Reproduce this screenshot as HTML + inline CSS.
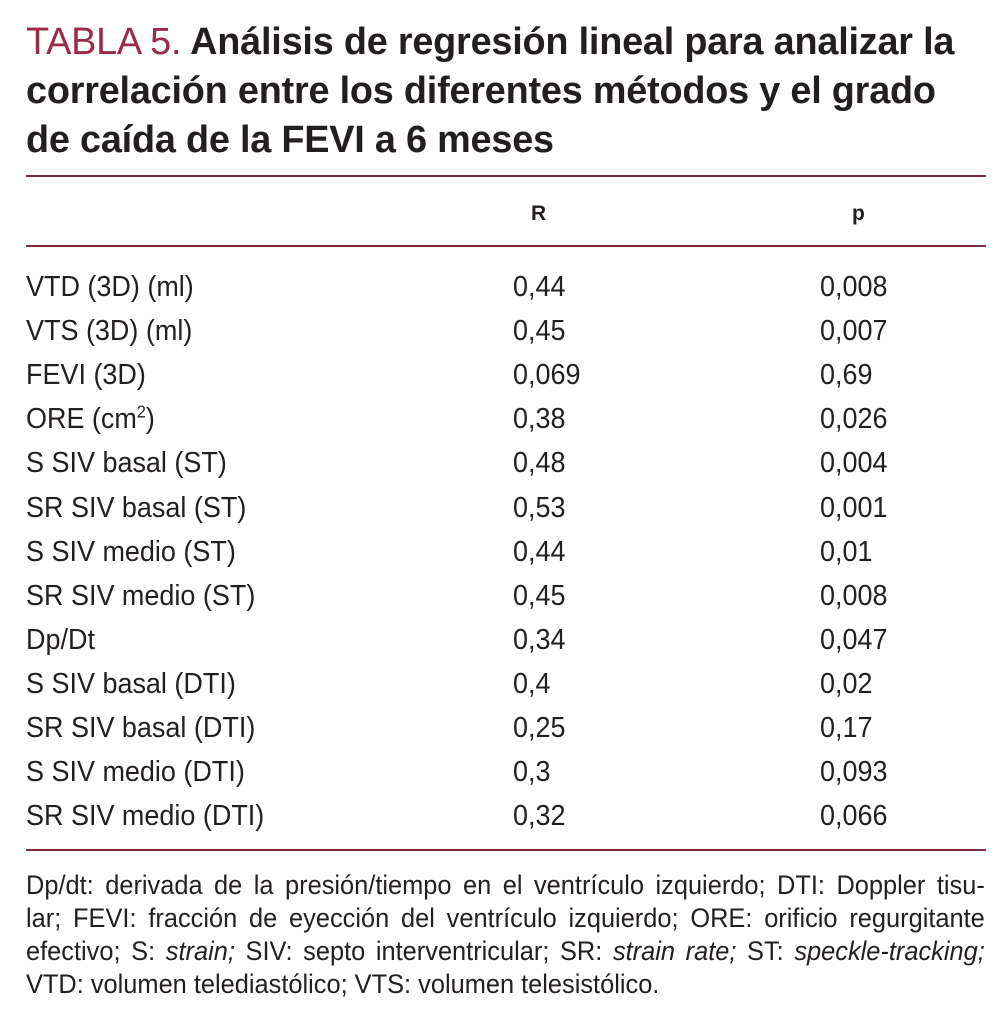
<!DOCTYPE html>
<html><head><meta charset="utf-8"><style>
body{margin:0;width:995px;height:1020px;background:#fff;position:relative;overflow:hidden;font-family:"Liberation Sans",sans-serif;color:#231f20}
.t{position:absolute;left:26px;font-family:"Liberation Sans",sans-serif;font-weight:bold;font-size:37.8px;white-space:nowrap;line-height:40px;letter-spacing:-0.2px}
.rule{position:absolute;left:26px;width:960px;height:2px;background:#7a3040}
.c{position:absolute;font-size:29px;white-space:nowrap;line-height:30px;transform:scaleX(0.93);transform-origin:left top}
.c sup{font-size:60%;line-height:0;vertical-align:super}
.h{position:absolute;font-weight:bold;font-size:21px;top:202px}
.f{position:absolute;left:26px;width:1020px;font-size:27px;line-height:28px;text-align:justify;text-align-last:justify;white-space:nowrap;transform:scaleX(0.94);transform-origin:left top}
</style></head><body>
<div class="t" style="top:22px"><span style="color:#9a2a45;font-weight:normal">TABLA 5.</span> Análisis de regresión lineal para analizar la</div>
<div class="t" style="top:71px">correlación entre los diferentes métodos y el grado</div>
<div class="t" style="top:120px">de caída de la FEVI a 6 meses</div>
<div class="rule" style="top:175px"></div>
<div class="h" style="left:531px">R</div>
<div class="h" style="left:852px">p</div>
<div class="rule" style="top:245px"></div>
<div id="rows"></div>
<div class="rule" style="top:849px"></div>
<div class="f" style="top:871px">Dp/dt: derivada de la presión/tiempo en el ventrículo izquierdo; DTI: Doppler tisu-</div>
<div class="f" style="top:904px">lar; FEVI: fracción de eyección del ventrículo izquierdo; ORE: orificio regurgitante</div>
<div class="f" style="top:937px">efectivo; S: <i>strain;</i> SIV: septo interventricular; SR: <i>strain rate;</i> ST: <i>speckle-tracking;</i></div>
<div class="f" style="top:970px;text-align-last:left">VTD: volumen telediastólico; VTS: volumen telesistólico.</div>
<script>
const labels=["VTD (3D) (ml)","VTS (3D) (ml)","FEVI (3D)","ORE (cm<sup>2</sup>)","S SIV basal (ST)","SR SIV basal (ST)","S SIV medio (ST)","SR SIV medio (ST)","Dp/Dt","S SIV basal (DTI)","SR SIV basal (DTI)","S SIV medio (DTI)","SR SIV medio (DTI)"];
const rVals=["0,44","0,45","0,069","0,38","0,48","0,53","0,44","0,45","0,34","0,4","0,25","0,3","0,32"];
const pVals=["0,008","0,007","0,69","0,026","0,004","0,001","0,01","0,008","0,047","0,02","0,17","0,093","0,066"];
const host=document.getElementById('rows');
labels.forEach((l,i)=>{
  const y=272+i*44.1;
  const a=document.createElement('div');a.className='c';a.style.left='26px';a.style.top=y+'px';a.innerHTML=l;
  
  
  const b=document.createElement('div');b.className='c';b.style.left='513px';b.style.top=y+'px';b.textContent=rVals[i];
  
  
  const c=document.createElement('div');c.className='c';c.style.left='820px';c.style.top=y+'px';c.textContent=pVals[i];
  
  
  host.append(a,b,c);
});
</script>
</body></html>
